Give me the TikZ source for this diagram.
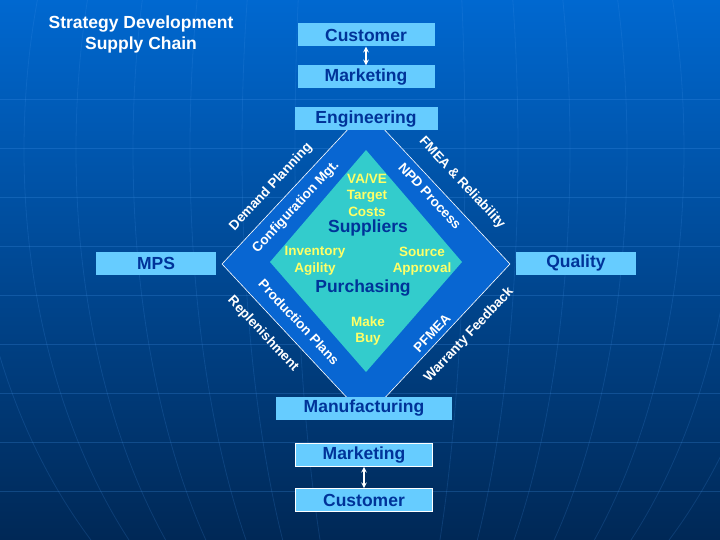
\documentclass[tikz,border=0pt]{standalone}
\usepackage{fontspec}
\setmainfont{Liberation Sans}
\usetikzlibrary{positioning}

\definecolor{bgtop}{RGB}{0,104,208}
\definecolor{bgmid}{RGB}{0,78,158}
\definecolor{bgbot}{RGB}{0,40,86}
\definecolor{gridline}{RGB}{70,150,235}
\definecolor{bandblue}{RGB}{8,102,210}
\definecolor{coreteal}{RGB}{51,204,204}
\definecolor{boxblue}{RGB}{102,204,255}
\definecolor{boxtext}{RGB}{0,51,153}
\definecolor{labelyellow}{RGB}{255,255,102}

\begin{document}
\begin{tikzpicture}[x=1pt,y=1pt,yscale=-1,xscale=1,
    box/.style={fill=boxblue,text=boxtext,inner sep=0pt,minimum width=137pt,minimum height=23pt,font=\fontsize{17.5}{21}\selectfont\bfseries},
    bandtext/.style={text=white,inner sep=0pt,font=\fontsize{13.5}{16}\selectfont\bfseries},
    coretext/.style={text=labelyellow,align=center,inner sep=0pt,font=\fontsize{13.5}{16.5}\selectfont\bfseries},
    coretitle/.style={text=boxtext,inner sep=0pt,font=\fontsize{17.5}{21}\selectfont\bfseries},
    twoway/.style={<->,>=stealth,white,line width=1.5pt}]
        \useasboundingbox (0,0) rectangle (720,540);
        
        %Shape: Background
        \shade[top color=bgtop,middle color=bgmid,bottom color=bgbot] (0,0) rectangle (720,540);
        \begin{scope}
        \clip (0,0) rectangle (720,540);
        \foreach \y in {99,148,...,491} \draw[gridline,opacity=0.25,line width=0.7pt] (0,\y) -- (720,\y);
        \foreach \a in {85,138,190,247,304,356,410} \draw[gridline,opacity=0.18,line width=0.8pt] (380,150) ellipse [x radius=\a, y radius=550];
        \end{scope}
        
        %Shape: Diamond
        \draw[white,line width=0.6pt,fill=bandblue] (222,264) -- (366,110) -- (510,264) -- (366,418) -- cycle;
        %Shape: Diamond
        \fill[coreteal] (270,262) -- (366,150) -- (462,262) -- (366,372) -- cycle;
        
        % Text Node
        \node[align=center,text=white,font=\fontsize{17.5}{21}\selectfont\bfseries] (title) at (141,34) {Strategy Development\\Supply Chain};
        
        % Boxes
        \node[box] (cust1) at (366,35) {Customer};
        \node[box] (mkt1) at (366,77) {Marketing};
        \node[box,minimum width=143pt] (eng) at (366,119) {Engineering};
        \node[box,minimum width=120pt] (mps) at (156,263) {MPS};
        \node[box,minimum width=120pt] (quality) at (576,263) {Quality};
        \node[box,minimum width=176pt] (manuf) at (364,408) {Manufacturing};
        \node[box,draw=white,line width=0.6pt] (mkt2) at (364,455) {Marketing};
        \node[box,draw=white,line width=0.6pt] (cust2) at (364,500) {Customer};
        
        %Straight Lines
        \draw[twoway] (cust1) -- (mkt1);
        \draw[twoway] (mkt2) -- (cust2);
        
        % Text Node
        \node[coretext] (vave) at (367,195) {VA/VE\\Target\\Costs};
        \node[coretitle] (suppliers) at (368,228) {Suppliers};
        \node[coretext] (inventory) at (315,261) {Inventory\\Agility};
        \node[coretext] (source) at (422,261) {Source\\Approval};
        \node[coretitle] (purchasing) at (363,288) {Purchasing};
        \node[coretext] (makebuy) at (368,331) {Make\\Buy};
        
        % Text Node
        \node[bandtext,rotate=47] (demand) at (271,187) {Demand Planning};
        \node[bandtext,rotate=47] (config) at (296,207) {Configuration Mgt.};
        \node[bandtext,rotate=-47] (fmea) at (462,183) {FMEA \& Reliability};
        \node[bandtext,rotate=-47] (npd) at (430,196) {NPD Process};
        \node[bandtext,rotate=-47] (prodplans) at (299,322) {Production Plans};
        \node[bandtext,rotate=-47] (replen) at (263,334) {Replenishment};
        \node[bandtext,rotate=47] (pfmea) at (432,333) {PFMEA};
        \node[bandtext,rotate=47] (warranty) at (469,335) {Warranty Feedback};
        \end{tikzpicture}
\end{document}
